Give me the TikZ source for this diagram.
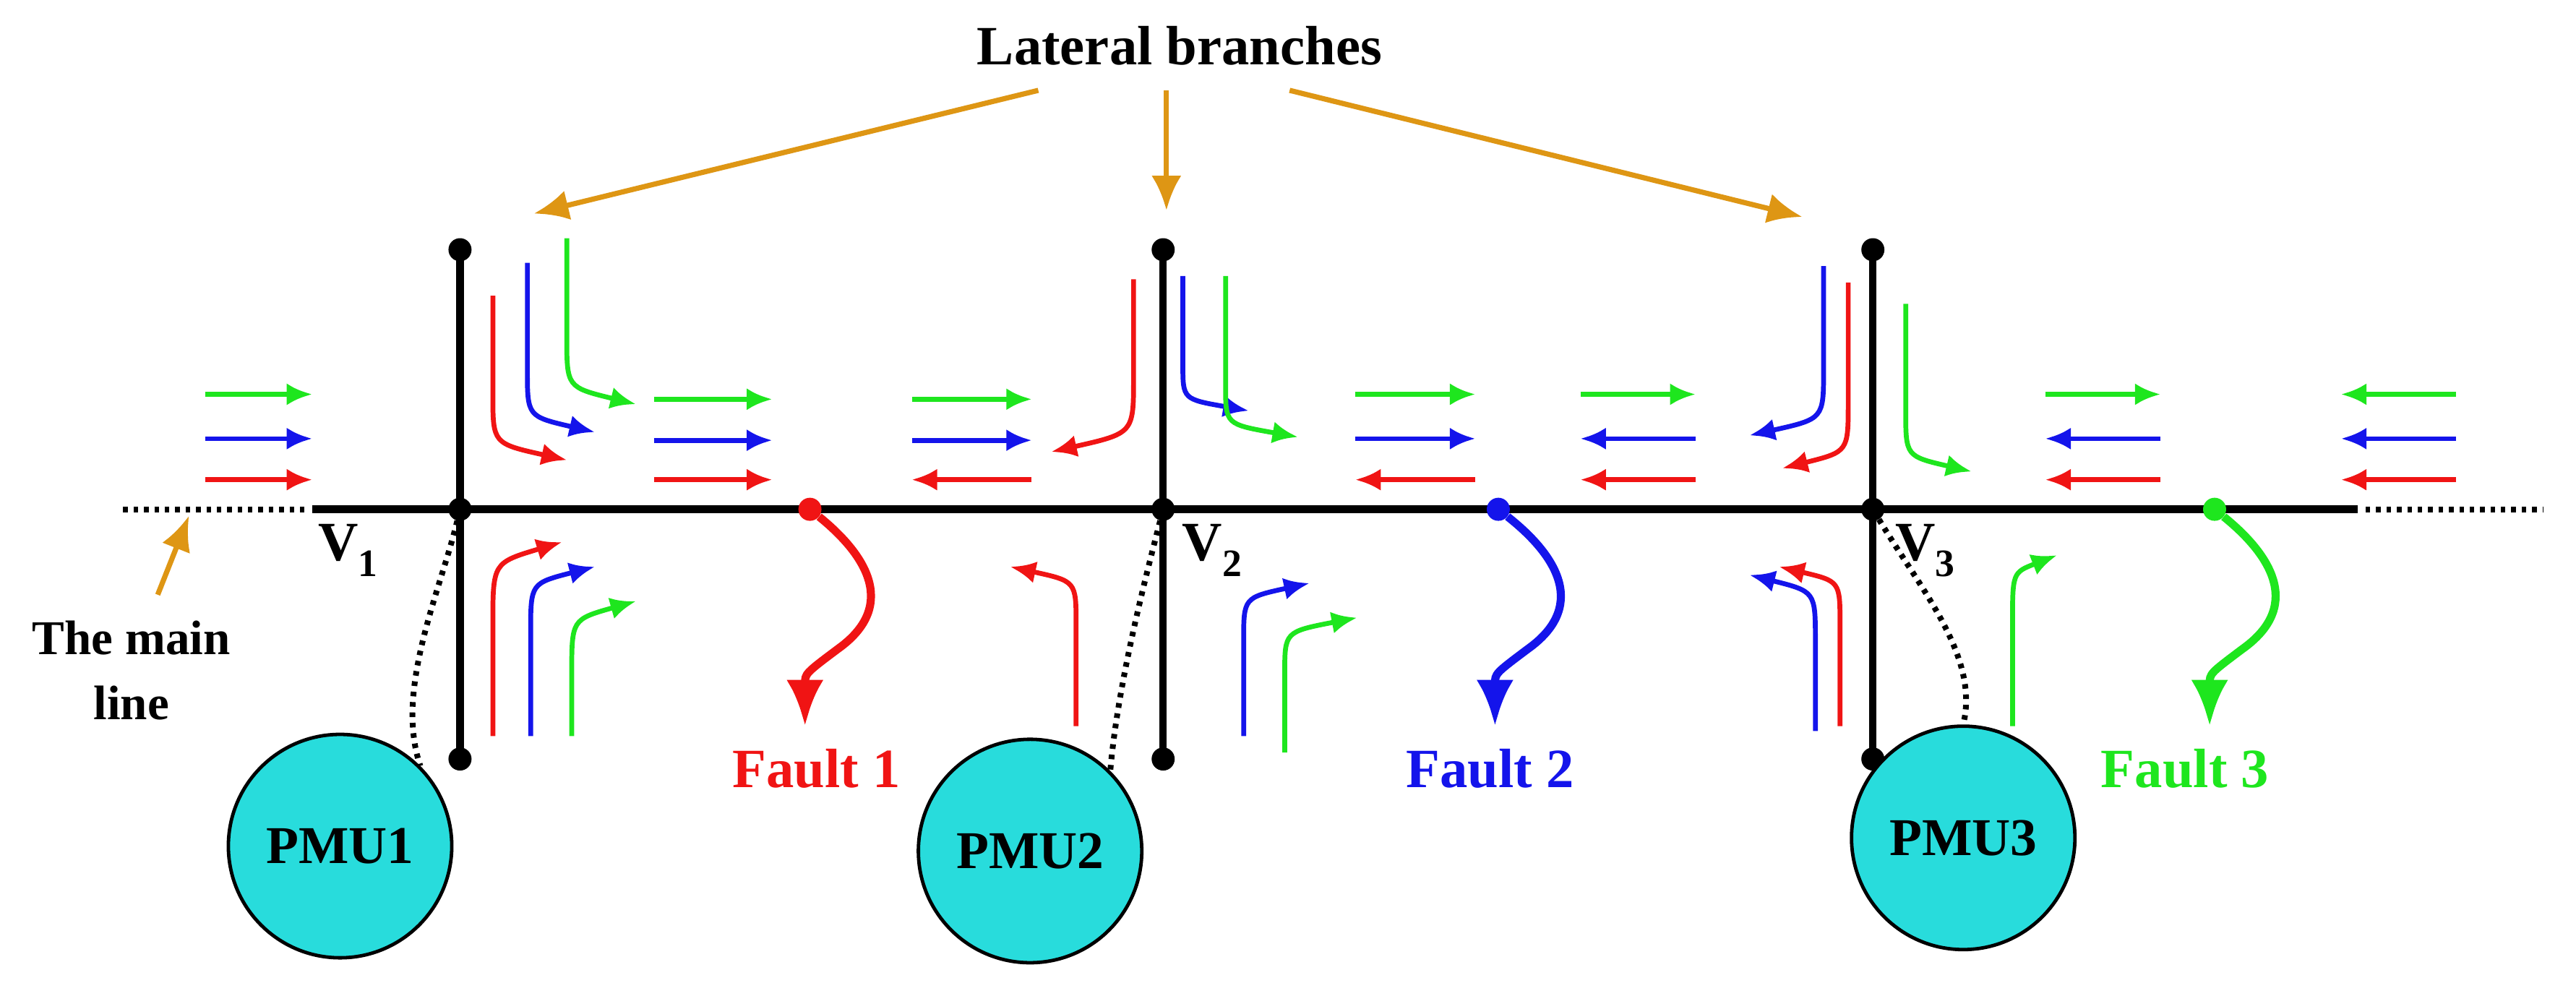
\documentclass[tikz,border=0pt]{standalone}
\usepackage{fontspec}
\setmainfont{Liberation Serif}
\usetikzlibrary{arrows.meta}
\definecolor{org}{RGB}{222,150,20}
\definecolor{gr}{RGB}{30,230,30}
\definecolor{bl}{RGB}{20,20,235}
\definecolor{rd}{RGB}{240,20,20}
\definecolor{cy}{RGB}{40,220,220}
\newcommand\sarr[4]{\draw[arr,#1] (#2,#4) -- (#3,#4);}
\newcommand\carr[6]{\draw[arr,#1] (#2,#3) -- (#2,#4) .. controls (#2,{#4+0.75*(#6-#4)}) .. (#5,#6);}
\begin{document}
\begin{tikzpicture}[x=0.05cm,y=-0.05cm,
  arr/.style={line width=4.2pt,-{Latex[length=22pt,width=19pt]}},
  oarr/.style={org,line width=4.5pt,-{Latex[length=30pt,width=26pt]}},
  bus/.style={line width=6.5pt},
  dot/.style={circle,fill,inner sep=0pt,minimum size=20pt},
  txt/.style={font=\fontsize{48}{52}\selectfont\bfseries},
  pmu/.style={circle,draw,line width=3pt,fill=cy,minimum size=6.8cm,font=\fontsize{46}{50}\selectfont\bfseries},
  fault/.style={line width=7pt,-{Latex[length=40pt,width=32pt]}},
  dotl/.style={line width=5pt,dash pattern=on 4pt off 5pt}]
\useasboundingbox (0,0) rectangle (1568,598);
% main line
\draw[dotl] (75,310) -- (185,310);
\draw[dotl] (1440,310) -- (1548,310);
\draw[bus] (190,310) -- (1435,310);
\foreach \x/\n in {280/1,708/2,1140/3}{
  \draw[bus] (\x,152) -- (\x,462);
  \node[dot] (t\n) at (\x,152) {};
  \node[dot] (b\n) at (\x,462) {};
  \node[dot] (j\n) at (\x,310) {};
}
\node[txt] (v1) at (212,335) {V$_{\mathbf 1}$};
\node[txt] (v2) at (738,335) {V$_{\mathbf 2}$};
\node[txt] (v3) at (1172,335) {V$_{\mathbf 3}$};
% PMUs
\node[pmu] (p1) at (207,515) {PMU1};
\node[pmu] (p2) at (627,518) {PMU2};
\node[pmu] (p3) at (1195,510) {PMU3};
\draw[dotl] (j1) .. controls (268,360) and (240,420) .. (p1.north east);
\draw[dotl] (j2) .. controls (695,360) and (680,420) .. (p2.north east);
\draw[dotl] (j3) .. controls (1170,360) and (1205,400) .. (p3.north);
% faults
\node[dot,rd] (f1) at (493,310) {};
\node[dot,bl] (f2) at (912,310) {};
\node[dot,gr] (f3) at (1348,310) {};
\coordinate (fe1) at (490,442);
\coordinate (fe2) at (910,442);
\coordinate (fe3) at (1345,442);
\draw[fault,rd] (f1) .. controls (530,340) and (545,370) .. (510,395) .. controls (490,410) .. (fe1);
\draw[fault,bl] (f2) .. controls (950,340) and (965,370) .. (930,395) .. controls (910,410) .. (fe2);
\draw[fault,gr] (f3) .. controls (1385,340) and (1400,370) .. (1365,395) .. controls (1345,410) .. (fe3);
\node[txt,rd] (fl1) at (497,468) {Fault 1};
\node[txt,bl] (fl2) at (907,468) {Fault 2};
\node[txt,gr] (fl3) at (1330,468) {Fault 3};
% labels
\node[txt] (lat) at (718,28) {Lateral branches};
\coordinate (la1) at (325,130);
\coordinate (la2) at (710,128);
\coordinate (la3) at (1097,132);
\draw[oarr] (632,55) -- (la1);
\draw[oarr] (710,55) -- (la2);
\draw[oarr] (785,55) -- (la3);
\node[txt,align=center,font=\fontsize{42}{56}\selectfont\bfseries] (ml) at (80,408) {The main\\line};
\coordinate (mla) at (115,314);
\draw[oarr] (96,362) -- (mla);
% straight arrows
\sarr{gr}{125}{190}{240}\sarr{bl}{125}{190}{267}\sarr{rd}{125}{190}{292}
\sarr{gr}{398}{470}{243}\sarr{bl}{398}{470}{268}\sarr{rd}{398}{470}{292}
\sarr{gr}{555}{628}{243}\sarr{bl}{555}{628}{268}\sarr{rd}{628}{555}{292}
\sarr{gr}{825}{898}{240}\sarr{bl}{825}{898}{267}\sarr{rd}{898}{825}{292}
\sarr{gr}{962}{1032}{240}\sarr{bl}{1032}{962}{267}\sarr{rd}{1032}{962}{292}
\sarr{gr}{1245}{1315}{240}\sarr{bl}{1315}{1245}{267}\sarr{rd}{1315}{1245}{292}
\sarr{gr}{1495}{1425}{240}\sarr{bl}{1495}{1425}{267}\sarr{rd}{1495}{1425}{292}
% curved arrows V1
\carr{rd}{300}{180}{240}{345}{280}
\carr{bl}{321}{160}{225}{362}{263}
\carr{gr}{345}{145}{205}{387}{246}
\carr{rd}{300}{448}{380}{342}{330}
\carr{bl}{323}{448}{385}{362}{345}
\carr{gr}{348}{448}{410}{387}{366}
% V2
\carr{rd}{690}{170}{230}{640}{275}
\carr{rd}{655}{442}{380}{615}{345}
\carr{bl}{720}{168}{222}{760}{250}
\carr{gr}{746}{168}{235}{790}{266}
\carr{bl}{757}{448}{390}{797}{355}
\carr{gr}{782}{458}{410}{826}{376}
% V3
\carr{bl}{1110}{162}{225}{1065}{265}
\carr{rd}{1125}{172}{245}{1085}{285}
\carr{rd}{1120}{442}{380}{1083}{345}
\carr{bl}{1105}{445}{390}{1065}{350}
\carr{gr}{1160}{185}{250}{1200}{287}
\carr{gr}{1225}{442}{380}{1252}{338}
\end{tikzpicture}
\end{document}
